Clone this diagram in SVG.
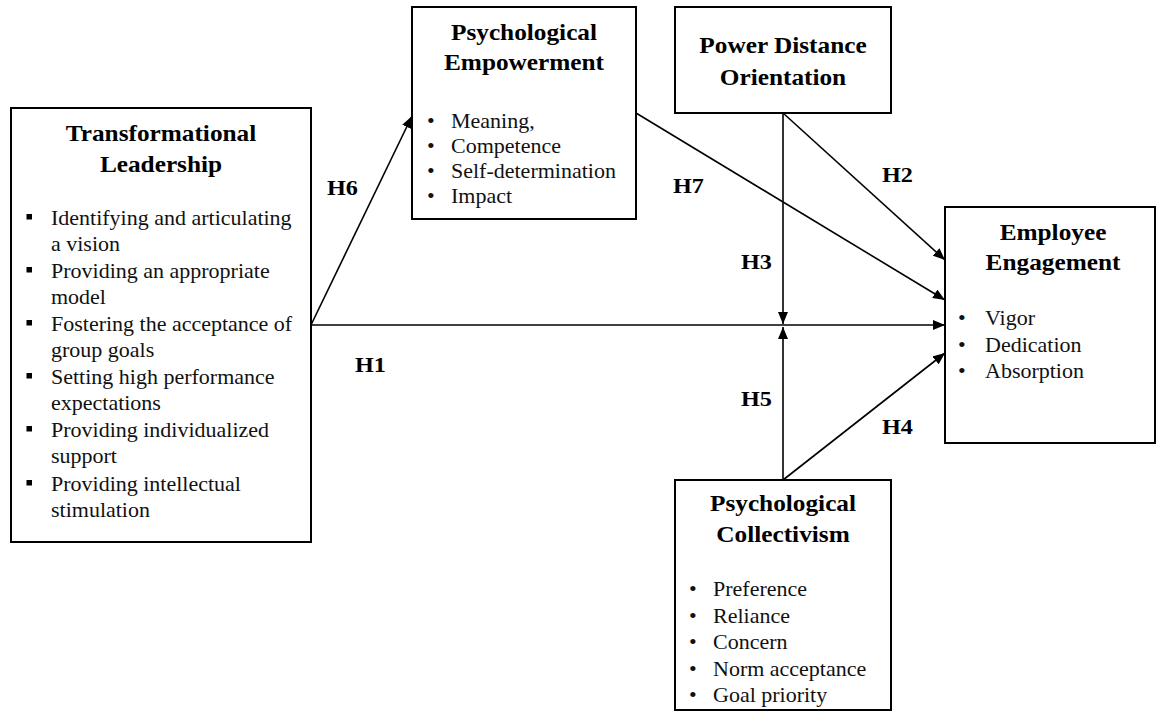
<svg xmlns="http://www.w3.org/2000/svg" width="1157" height="711" viewBox="0 0 1157 711">
<style>
.box{fill:#fff;stroke:#000;stroke-width:2}
.t{font-family:"Liberation Serif","Times New Roman",serif;font-size:23px;font-weight:bold;text-anchor:middle;fill:#000}
.b{font-family:"Liberation Serif","Times New Roman",serif;font-size:20px;fill:#111}
.h{font-family:"Liberation Serif","Times New Roman",serif;font-size:22px;font-weight:bold;fill:#000}
.ln{stroke:#000;stroke-width:1.6;fill:none}
.sq{fill:#000}
</style>
<defs>
<marker id="arr" viewBox="0 0 12 10" refX="12" refY="5" markerWidth="12" markerHeight="10" markerUnits="userSpaceOnUse" orient="auto">
<path d="M0,0 L12,5 L0,10 z" fill="#000"/>
</marker>
</defs>
<rect width="1157" height="711" fill="#fff"/>
<g id="connectors">
<line class="ln" x1="311" y1="325" x2="945" y2="325" marker-end="url(#arr)"/>
<line class="ln" x1="311" y1="325" x2="412" y2="116" marker-end="url(#arr)"/>
<line class="ln" x1="636" y1="113" x2="945" y2="300" marker-end="url(#arr)"/>
<line class="ln" x1="783" y1="113" x2="945" y2="260" marker-end="url(#arr)"/>
<line class="ln" x1="783" y1="113" x2="783" y2="324" marker-end="url(#arr)"/>
<line class="ln" x1="783" y1="480" x2="783" y2="327" marker-end="url(#arr)"/>
<line class="ln" x1="783" y1="480" x2="945" y2="353" marker-end="url(#arr)"/>
</g>
<g id="labels">
<text class="h" transform="translate(327 195) scale(1.1 1)">H6</text>
<text class="h" transform="translate(355 372) scale(1.1 1)">H1</text>
<text class="h" transform="translate(673 193) scale(1.1 1)">H7</text>
<text class="h" transform="translate(882 182) scale(1.1 1)">H2</text>
<text class="h" transform="translate(741 269) scale(1.1 1)">H3</text>
<text class="h" transform="translate(741 406) scale(1.1 1)">H5</text>
<text class="h" transform="translate(882 434) scale(1.1 1)">H4</text>
</g>
<g id="transformational-leadership">
<rect class="box" x="11" y="108" width="300" height="434"/>
<text class="t" transform="translate(161 141) scale(1.1 1)">Transformational</text>
<text class="t" transform="translate(161 172) scale(1.1 1)">Leadership</text>
<rect class="sq" x="26.5" y="214" width="5.5" height="5.5"/>
<rect class="sq" x="26.5" y="267" width="5.5" height="5.5"/>
<rect class="sq" x="26.5" y="320" width="5.5" height="5.5"/>
<rect class="sq" x="26.5" y="373" width="5.5" height="5.5"/>
<rect class="sq" x="26.5" y="426" width="5.5" height="5.5"/>
<rect class="sq" x="26.5" y="480" width="5.5" height="5.5"/>
<text class="b" transform="translate(51 225) scale(1.1 1)">Identifying and articulating</text>
<text class="b" transform="translate(51 251) scale(1.1 1)">a vision</text>
<text class="b" transform="translate(51 278) scale(1.1 1)">Providing an appropriate</text>
<text class="b" transform="translate(51 304) scale(1.1 1)">model</text>
<text class="b" transform="translate(51 331) scale(1.1 1)">Fostering the acceptance of</text>
<text class="b" transform="translate(51 357) scale(1.1 1)">group goals</text>
<text class="b" transform="translate(51 384) scale(1.1 1)">Setting high performance</text>
<text class="b" transform="translate(51 410) scale(1.1 1)">expectations</text>
<text class="b" transform="translate(51 437) scale(1.1 1)">Providing individualized</text>
<text class="b" transform="translate(51 463) scale(1.1 1)">support</text>
<text class="b" transform="translate(51 491) scale(1.1 1)">Providing intellectual</text>
<text class="b" transform="translate(51 517) scale(1.1 1)">stimulation</text>
</g>
<g id="psychological-empowerment">
<rect class="box" x="412" y="7" width="224" height="212"/>
<text class="t" transform="translate(524 40) scale(1.1 1)">Psychological</text>
<text class="t" transform="translate(524 70) scale(1.1 1)">Empowerment</text>
<text class="b" transform="translate(427 128) scale(1.1 1)">•</text>
<text class="b" transform="translate(427 153) scale(1.1 1)">•</text>
<text class="b" transform="translate(427 178) scale(1.1 1)">•</text>
<text class="b" transform="translate(427 203) scale(1.1 1)">•</text>
<text class="b" transform="translate(451 128) scale(1.1 1)">Meaning,</text>
<text class="b" transform="translate(451 153) scale(1.1 1)">Competence</text>
<text class="b" transform="translate(451 178) scale(1.1 1)">Self-determination</text>
<text class="b" transform="translate(451 203) scale(1.1 1)">Impact</text>
</g>
<g id="power-distance-orientation">
<rect class="box" x="675" y="7" width="216" height="106"/>
<text class="t" transform="translate(783 53) scale(1.1 1)">Power Distance</text>
<text class="t" transform="translate(783 85) scale(1.1 1)">Orientation</text>
</g>
<g id="employee-engagement">
<rect class="box" x="945" y="207" width="210" height="236"/>
<text class="t" transform="translate(1053 240) scale(1.1 1)">Employee</text>
<text class="t" transform="translate(1053 270) scale(1.1 1)">Engagement</text>
<text class="b" transform="translate(958 325) scale(1.1 1)">•</text>
<text class="b" transform="translate(958 352) scale(1.1 1)">•</text>
<text class="b" transform="translate(958 378) scale(1.1 1)">•</text>
<text class="b" transform="translate(985 325) scale(1.1 1)">Vigor</text>
<text class="b" transform="translate(985 352) scale(1.1 1)">Dedication</text>
<text class="b" transform="translate(985 378) scale(1.1 1)">Absorption</text>
</g>
<g id="psychological-collectivism">
<rect class="box" x="675" y="480" width="216" height="230"/>
<text class="t" transform="translate(783 511) scale(1.1 1)">Psychological</text>
<text class="t" transform="translate(783 542) scale(1.1 1)">Collectivism</text>
<text class="b" transform="translate(689 596) scale(1.1 1)">•</text>
<text class="b" transform="translate(689 623) scale(1.1 1)">•</text>
<text class="b" transform="translate(689 649) scale(1.1 1)">•</text>
<text class="b" transform="translate(689 676) scale(1.1 1)">•</text>
<text class="b" transform="translate(689 702) scale(1.1 1)">•</text>
<text class="b" transform="translate(713 596) scale(1.1 1)">Preference</text>
<text class="b" transform="translate(713 623) scale(1.1 1)">Reliance</text>
<text class="b" transform="translate(713 649) scale(1.1 1)">Concern</text>
<text class="b" transform="translate(713 676) scale(1.1 1)">Norm acceptance</text>
<text class="b" transform="translate(713 702) scale(1.1 1)">Goal priority</text>
</g>
</svg>
